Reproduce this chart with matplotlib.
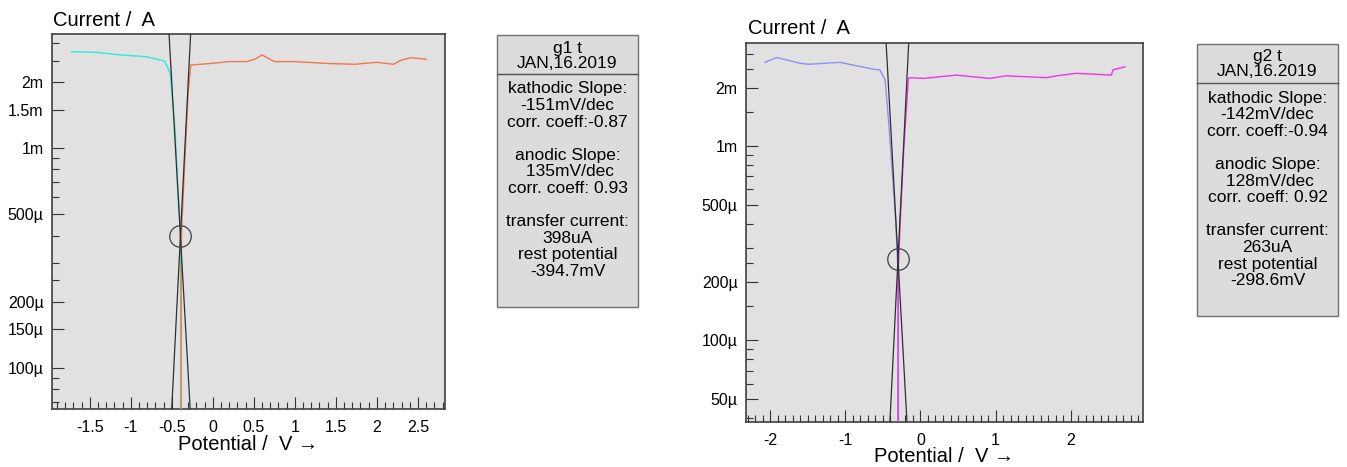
import matplotlib
matplotlib.use("Agg")
import matplotlib.pyplot as plt
from matplotlib.patches import Rectangle
from matplotlib.lines import Line2D
import numpy as np

plt.rcParams['font.family'] = ['Liberation Sans', 'DejaVu Sans']

# --- g1 t ---------------------------------------------------------------
g1_cath_E = [-1.72, -1.42, -1.13, -0.81, -0.585, -0.52, -0.46, -0.43, -0.395, -0.392, -0.392]
g1_cath_I = [2.75e-3, 2.73e-3, 2.66e-3, 2.61e-3, 2.49e-3, 2.2e-3, 1.21e-3, 7.1e-4, 4.3e-4, 2.0e-4, 6.0e-5]
g1_anod_E = [-0.385, -0.385, -0.38, -0.34, -0.30, -0.27, -0.03, 0.21, 0.42, 0.52, 0.60, 0.75,
             0.99, 1.4, 1.73, 2.0, 2.2, 2.3, 2.42, 2.6]
g1_anod_I = [6.0e-5, 2.5e-4, 4.3e-4, 9.0e-4, 1.8e-3, 2.39e-3, 2.43e-3, 2.48e-3, 2.48e-3, 2.55e-3,
             2.66e-3, 2.48e-3, 2.48e-3, 2.43e-3, 2.41e-3, 2.46e-3, 2.41e-3, 2.52e-3, 2.58e-3, 2.54e-3]
g1_rest = -0.3947
g1_icorr = 398e-6
g1_bc = -0.151
g1_ba = 0.135
g1_info = ["kathodic Slope:", "-151mV/dec", "corr. coeff:-0.87", "",
           "anodic Slope:", " 135mV/dec", "corr. coeff: 0.93", "",
           "transfer current:", "398uA", "rest potential", "-394.7mV"]

# --- g2 t ---------------------------------------------------------------
g2_cath_E = [-2.07, -1.91, -1.6, -1.49, -1.07, -0.63, -0.54, -0.47, -0.42, -0.37, -0.33, -0.30, -0.30, -0.30]
g2_cath_I = [2.71e-3, 2.87e-3, 2.68e-3, 2.65e-3, 2.71e-3, 2.5e-3, 2.48e-3, 2.2e-3, 1.3e-3, 7.0e-4,
             4.2e-4, 2.4e-4, 1.0e-4, 3.0e-5]
g2_anod_E = [-0.295, -0.295, -0.27, -0.22, -0.16, -0.14, 0.04, 0.48, 0.92, 1.14, 1.68, 1.81,
             2.07, 2.54, 2.56, 2.72]
g2_anod_I = [3.0e-5, 2.3e-4, 4.0e-4, 1.0e-3, 2.24e-3, 2.26e-3, 2.24e-3, 2.33e-3, 2.24e-3, 2.31e-3,
             2.26e-3, 2.31e-3, 2.38e-3, 2.33e-3, 2.48e-3, 2.57e-3]
g2_rest = -0.2986
g2_icorr = 263e-6
g2_bc = -0.142
g2_ba = 0.128
g2_info = ["kathodic Slope:", "-142mV/dec", "corr. coeff:-0.94", "",
           "anodic Slope:", " 128mV/dec", "corr. coeff: 0.92", "",
           "transfer current:", "263uA", "rest potential", "-298.6mV"]

W, H = 1347, 467
fig = plt.figure(figsize=(W / 100, H / 100), dpi=100)
fig.patch.set_facecolor('white')


def px_axes(x0, y0, x1, y1):
    return fig.add_axes([x0 / W, 1 - y1 / H, (x1 - x0) / W, (y1 - y0) / H])


def fmt_cur(v):
    if v >= 1e-3:
        s = f"{v * 1e3:g}m"
    else:
        s = f"{v * 1e6:g}\u00b5"
    return s


def panel(ax, cE, cI, aE, aI, rest, icorr, bc, ba, ccol, acol, xlim, ylim,
          xmajor, yticks, title_xy, xlabel_y):
    ax.set_facecolor('#e1e1e1')
    ax.set_yscale('log')
    ax.set_xlim(*xlim)
    ax.set_ylim(*ylim)
    ax.plot(cE, cI, color=ccol, lw=1.0, zorder=3)
    ax.plot(aE, aI, color=acol, lw=1.0, zorder=3)
    ii = np.array(ylim)
    ax.plot(rest + bc * np.log10(ii / icorr), ii, color='#303030', lw=0.9, zorder=4)
    ax.plot(rest + ba * np.log10(ii / icorr), ii, color='#303030', lw=0.9, zorder=4)
    ax.plot([rest], [icorr], 'o', ms=15.5, mfc='none', mec='#404040', mew=0.9, zorder=5)

    # ticks
    ax.set_xticks(np.arange(np.ceil(xlim[0] / xmajor) * xmajor, xlim[1], xmajor))
    ax.set_xticks(np.arange(np.ceil(xlim[0] * 10) / 10, xlim[1], 0.1), minor=True)
    ax.xaxis.set_major_formatter(plt.FuncFormatter(lambda v, p: f"{v:g}"))
    ax.set_yticks(yticks)
    ax.set_yticklabels([fmt_cur(v) for v in yticks])
    decs = [1e-5, 1e-4, 1e-3]
    mult = [1, 1.5, 2, 2.5, 3, 4, 5, 6, 7, 8, 9]
    minors = [d * m for d in decs for m in mult if ylim[0] <= d * m <= ylim[1]]
    ax.set_yticks(minors, minor=True)
    ax.yaxis.set_minor_formatter(plt.NullFormatter())
    ax.tick_params(which='major', direction='in', length=8.5, width=0.8, color='#333333',
                   labelsize=11.5, pad=6)
    ax.tick_params(axis='x', which='major', pad=8)
    ax.tick_params(which='minor', direction='in', length=5, width=0.8, color='#333333')
    ax.tick_params(axis='y', which='both', left=True, right=False)
    for s in ax.spines.values():
        s.set_color('#404040')
        s.set_linewidth(1.2)
    fig.text(title_xy[0] / W, 1 - title_xy[1] / H, "Current /  A", fontsize=14.5,
             ha='left', va='center')
    pos = ax.get_position()
    fig.text(pos.x0 + pos.width / 2, 1 - xlabel_y / H, "Potential /  V \u2192", fontsize=14.5,
             ha='center', va='center')


def info_box(x0, y0, x1, y1, sep_y, name, date, lines):
    fig.patches.append(Rectangle((x0 / W, 1 - y1 / H), (x1 - x0) / W, (y1 - y0) / H,
                                 transform=fig.transFigure, facecolor='#dcdcdc',
                                 edgecolor='#707070', lw=1.0))
    fig.lines.append(Line2D([x0 / W, x1 / W], [1 - sep_y / H, 1 - sep_y / H],
                            transform=fig.transFigure, color='#505050', lw=1.0))
    xc = (x0 + x1) / 2 / W
    fig.text(xc, 1 - (y0 + 13) / H, name, fontsize=12.5, ha='center', va='center')
    fig.text(xc, 1 - (y0 + 28) / H, date, fontsize=12.5, ha='center', va='center')
    for k, t in enumerate(lines):
        if t:
            fig.text(xc, 1 - (sep_y + 15 + k * 16.6) / H, t, fontsize=12.5,
                     ha='center', va='center')


ax1 = px_axes(52, 34, 445, 409)
panel(ax1, g1_cath_E, g1_cath_I, g1_anod_E, g1_anod_I, g1_rest, g1_icorr, g1_bc, g1_ba,
      '#30e6e0', '#f2764e', (-1.96, 2.83), (6.5e-5, 3.31e-3), 0.5,
      [1e-4, 1.5e-4, 2e-4, 5e-4, 1e-3, 1.5e-3, 2e-3], (53, 20), 444)
info_box(497, 35, 638, 307, 74, "g1 t", "JAN,16.2019", g1_info)

ax2 = px_axes(746, 43, 1143, 422)
panel(ax2, g2_cath_E, g2_cath_I, g2_anod_E, g2_anod_I, g2_rest, g2_icorr, g2_bc, g2_ba,
      '#9090f2', '#e838e8', (-2.32, 2.96), (3.8e-5, 3.41e-3), 1.0,
      [5e-5, 1e-4, 2e-4, 5e-4, 1e-3, 2e-3], (748, 29), 457)
info_box(1197, 44, 1338, 316, 83, "g2 t", "JAN,16.2019", g2_info)

fig.savefig("out.png", dpi=100)
